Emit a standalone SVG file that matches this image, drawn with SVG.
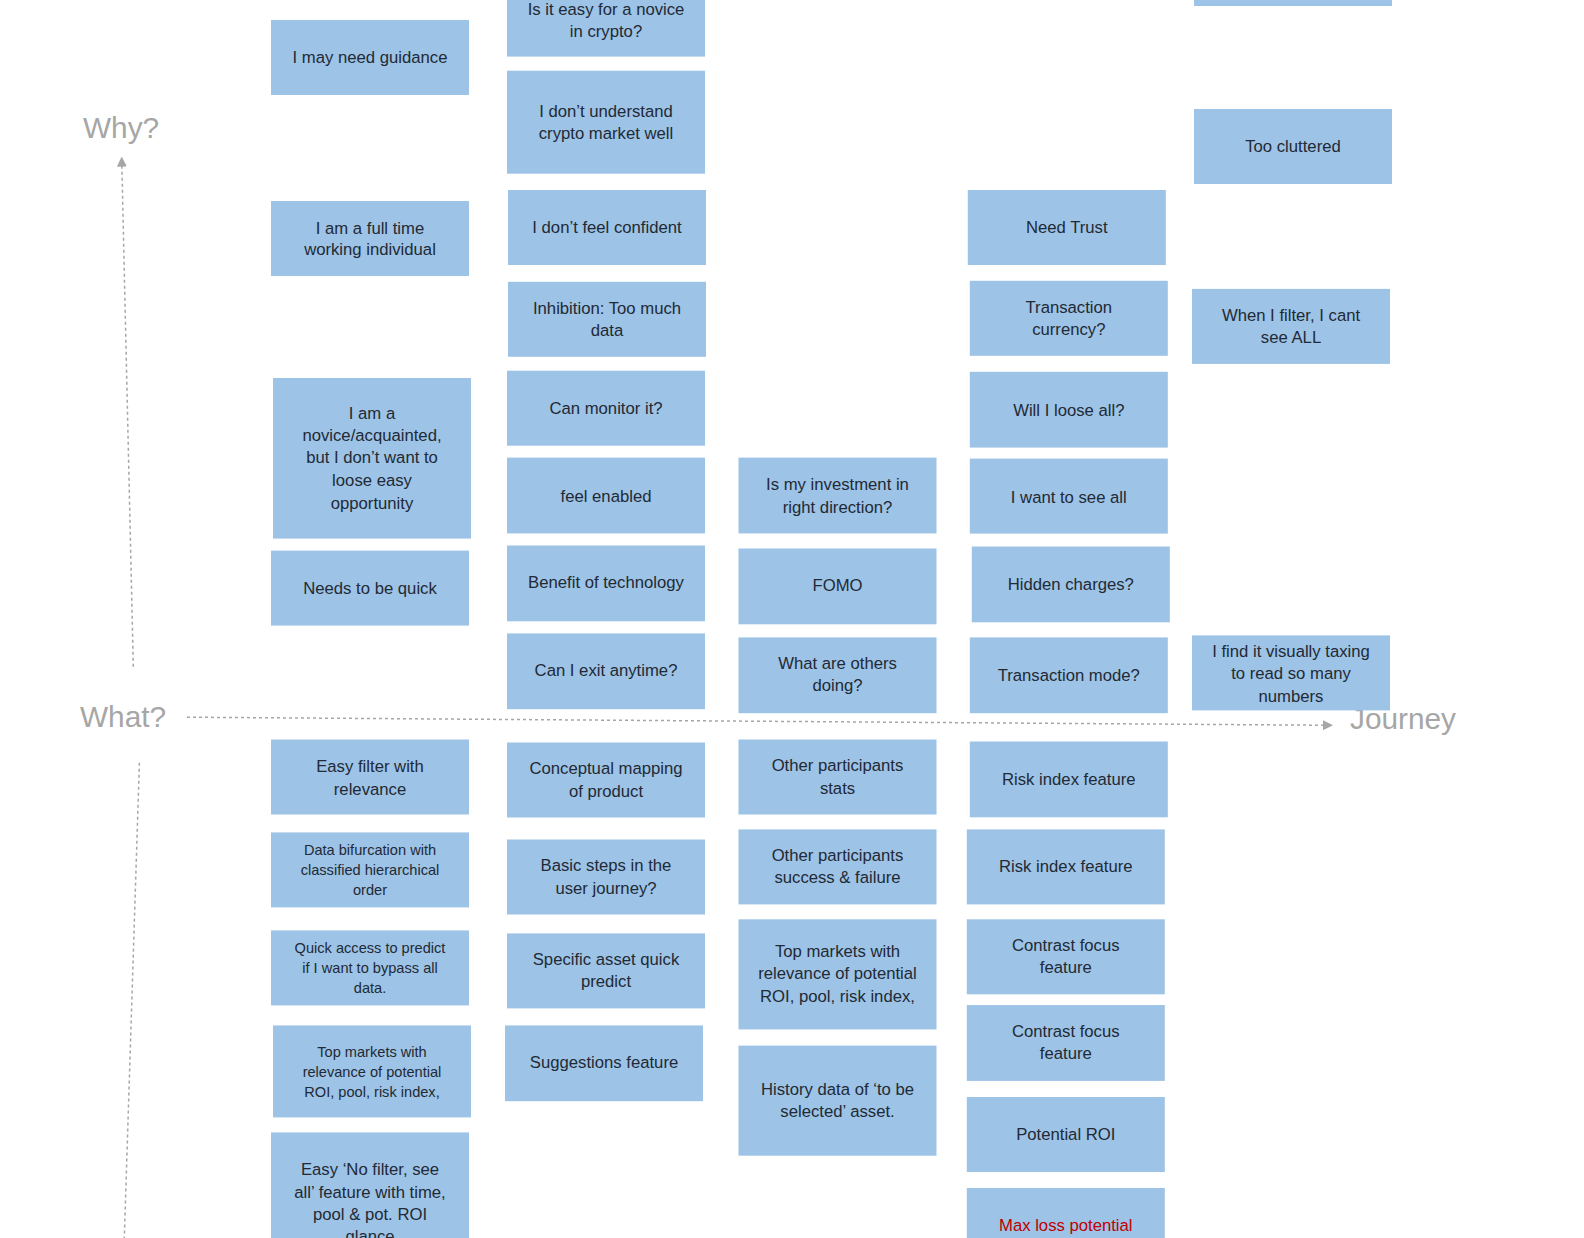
<svg xmlns="http://www.w3.org/2000/svg" width="1584" height="1238" viewBox="0 0 1584 1238">
<defs>
<style>
.b{fill:#9DC3E6;}
.t{font-family:"Liberation Sans",Arial,sans-serif;font-size:16.7px;fill:#222A35;text-anchor:middle;dominant-baseline:central;}
.s{font-size:14.6px;}
.r{fill:#C00000;}
.ax{font-family:"Liberation Sans",Arial,sans-serif;font-size:29.8px;fill:#A6A6A6;}
.ln{stroke:#A6A6A6;stroke-width:1.5;stroke-dasharray:3 3;fill:none;}
</style>
<marker id="ah" markerWidth="10" markerHeight="10" refX="8" refY="5" orient="auto" markerUnits="userSpaceOnUse">
<path d="M0,0 L10,5 L0,10 Z" fill="#A6A6A6"/>
</marker>
</defs>
<rect width="1584" height="1238" fill="#FFFFFF"/>

<g id="axes">
<text class="ax" x="83" y="138">Why?</text>
<text class="ax" x="80" y="727">What?</text>
<text class="ax" x="1350" y="729">Journey</text>
</g>
<g id="connectors">
<line class="ln" x1="133.3" y1="666.7" x2="121.7" y2="158.6" marker-end="url(#ah)"/>
<line class="ln" x1="187" y1="717.2" x2="1331" y2="725.3" marker-end="url(#ah)"/>
<line class="ln" x1="139.4" y1="762.7" x2="124.3" y2="1238"/>
</g>

<!-- Column 1 -->
<g id="n-guidance"><rect class="b" x="271" y="20" width="198" height="75"/><text class="t" x="370" y="57.6">I may need guidance</text></g>
<g id="n-fulltime"><rect class="b" x="271" y="201" width="198" height="75"/><text class="t" x="370" y="228.3">I am a full time</text><text class="t" x="370" y="249.5">working individual</text></g>
<g id="n-novice"><rect class="b" x="273" y="378" width="198" height="160.6"/><text class="t" x="372" y="413.2">I am a</text><text class="t" x="372" y="435.4">novice/acquainted,</text><text class="t" x="372" y="457.6">but I don’t want to</text><text class="t" x="372" y="480.9">loose easy</text><text class="t" x="372" y="503.1">opportunity</text></g>
<g id="n-quick"><rect class="b" x="271" y="550.6" width="198" height="75"/><text class="t" x="370" y="588">Needs to be quick</text></g>
<g id="n-easyfilter"><rect class="b" x="271" y="739.5" width="198" height="75"/><text class="t" x="370" y="766.7">Easy filter with</text><text class="t" x="370" y="789">relevance</text></g>
<g id="n-databif"><rect class="b" x="271" y="832.4" width="198" height="75"/><text class="t s" x="370" y="849.6">Data bifurcation with</text><text class="t s" x="370" y="869.8">classified hierarchical</text><text class="t s" x="370" y="890">order</text></g>
<g id="n-quickaccess"><rect class="b" x="271" y="930.4" width="198" height="75"/><text class="t s" x="370" y="947.6">Quick access to predict</text><text class="t s" x="370" y="967.8">if I want to bypass all</text><text class="t s" x="370" y="988">data.</text></g>
<g id="n-topmarkets1"><rect class="b" x="273" y="1025.4" width="198" height="92"/><text class="t s" x="372" y="1051.6">Top markets with</text><text class="t s" x="372" y="1071.8">relevance of potential</text><text class="t s" x="372" y="1092">ROI, pool, risk index,</text></g>
<g id="n-nofilter"><rect class="b" x="271" y="1132.4" width="198" height="120"/><text class="t" x="370" y="1169.8">Easy ‘No filter,  see</text><text class="t" x="370" y="1192">all’ feature with time,</text><text class="t" x="370" y="1214.3">pool &amp; pot. ROI</text><text class="t" x="370" y="1236.5">glance</text></g>

<!-- Column 2 -->
<g id="n-novicecrypto"><rect class="b" x="507" y="-20" width="198" height="76.6"/><text class="t" x="606" y="9.1">Is it easy for a novice</text><text class="t" x="606" y="31.3">in crypto?</text></g>
<g id="n-understand"><rect class="b" x="507" y="70.7" width="198" height="103"/><text class="t" x="606" y="111.1">I don’t understand</text><text class="t" x="606" y="133.3">crypto market well</text></g>
<g id="n-confident"><rect class="b" x="508" y="190" width="198" height="75"/><text class="t" x="607" y="227.3">I don’t feel confident</text></g>
<g id="n-inhibition"><rect class="b" x="508" y="281.8" width="198" height="75"/><text class="t" x="607" y="308.1">Inhibition: Too much</text><text class="t" x="607" y="330.3">data</text></g>
<g id="n-monitor"><rect class="b" x="507" y="370.7" width="198" height="75"/><text class="t" x="606" y="408.1">Can monitor it?</text></g>
<g id="n-enabled"><rect class="b" x="507" y="457.6" width="198" height="75.8"/><text class="t" x="606" y="496">feel enabled</text></g>
<g id="n-benefit"><rect class="b" x="507" y="545.5" width="198" height="75.8"/><text class="t" x="606" y="582.9">Benefit of technology</text></g>
<g id="n-exit"><rect class="b" x="507" y="633.4" width="198" height="75.8"/><text class="t" x="606" y="670.8">Can I exit anytime?</text></g>
<g id="n-conceptual"><rect class="b" x="507" y="742.5" width="198" height="75"/><text class="t" x="606" y="768.8">Conceptual mapping</text><text class="t" x="606" y="791">of product</text></g>
<g id="n-basicsteps"><rect class="b" x="507" y="839.5" width="198" height="75"/><text class="t" x="606" y="865.7">Basic steps in the</text><text class="t" x="606" y="888">user journey?</text></g>
<g id="n-specific"><rect class="b" x="507" y="933.4" width="198" height="75"/><text class="t" x="606" y="959.7">Specific asset quick</text><text class="t" x="606" y="981.9">predict</text></g>
<g id="n-suggestions"><rect class="b" x="505" y="1025.4" width="198" height="75.8"/><text class="t" x="604" y="1062.7">Suggestions feature</text></g>

<!-- Column 3 -->
<g id="n-investment"><rect class="b" x="738.5" y="457.6" width="198" height="75.8"/><text class="t" x="837.5" y="484.9">Is my investment in</text><text class="t" x="837.5" y="507.1">right direction?</text></g>
<g id="n-fomo"><rect class="b" x="738.5" y="548.5" width="198" height="75.8"/><text class="t" x="837.5" y="585.9">FOMO</text></g>
<g id="n-others"><rect class="b" x="738.5" y="637.4" width="198" height="75.8"/><text class="t" x="837.5" y="663.7">What are others</text><text class="t" x="837.5" y="685.9">doing?</text></g>
<g id="n-stats"><rect class="b" x="738.5" y="739.5" width="198" height="75"/><text class="t" x="837.5" y="765.7">Other participants</text><text class="t" x="837.5" y="788">stats</text></g>
<g id="n-success"><rect class="b" x="738.5" y="829.4" width="198" height="75"/><text class="t" x="837.5" y="855.6">Other participants</text><text class="t" x="837.5" y="877.9">success &amp; failure</text></g>
<g id="n-topmarkets2"><rect class="b" x="738.5" y="919.3" width="198" height="110.1"/><text class="t" x="837.5" y="951.6">Top markets with</text><text class="t" x="837.5" y="973.8">relevance of potential</text><text class="t" x="837.5" y="996">ROI, pool, risk index,</text></g>
<g id="n-history"><rect class="b" x="738.5" y="1045.6" width="198" height="110.1"/><text class="t" x="837.5" y="1089">History data of ‘to be</text><text class="t" x="837.5" y="1111.2">selected’ asset.</text></g>

<!-- Column 4 -->
<g id="n-trust"><rect class="b" x="967.8" y="190" width="198" height="75"/><text class="t" x="1066.8" y="227.3">Need Trust</text></g>
<g id="n-currency"><rect class="b" x="969.8" y="280.8" width="198" height="75"/><text class="t" x="1068.8" y="307.1">Transaction</text><text class="t" x="1068.8" y="329.3">currency?</text></g>
<g id="n-looseall"><rect class="b" x="969.8" y="371.8" width="198" height="75.8"/><text class="t" x="1068.8" y="410.1">Will I loose all?</text></g>
<g id="n-seeall"><rect class="b" x="969.8" y="458.6" width="198" height="75"/><text class="t" x="1068.8" y="497">I want to see all</text></g>
<g id="n-hidden"><rect class="b" x="971.8" y="546.5" width="198" height="75.8"/><text class="t" x="1070.8" y="584.9">Hidden charges?</text></g>
<g id="n-mode"><rect class="b" x="969.8" y="637.4" width="198" height="75.8"/><text class="t" x="1068.8" y="675.8">Transaction mode?</text></g>
<g id="n-risk1"><rect class="b" x="969.8" y="741.5" width="198" height="75.8"/><text class="t" x="1068.8" y="779.9">Risk index feature</text></g>
<g id="n-risk2"><rect class="b" x="966.8" y="829.4" width="198" height="75"/><text class="t" x="1065.8" y="866.8">Risk index feature</text></g>
<g id="n-contrast1"><rect class="b" x="966.8" y="919.3" width="198" height="75"/><text class="t" x="1065.8" y="945.5">Contrast focus</text><text class="t" x="1065.8" y="967.8">feature</text></g>
<g id="n-contrast2"><rect class="b" x="966.8" y="1005.1" width="198" height="75.8"/><text class="t" x="1065.8" y="1031.4">Contrast focus</text><text class="t" x="1065.8" y="1053.6">feature</text></g>
<g id="n-roi"><rect class="b" x="966.8" y="1097" width="198" height="75"/><text class="t" x="1065.8" y="1134.5">Potential ROI</text></g>
<g id="n-maxloss"><rect class="b" x="966.8" y="1188" width="198" height="60"/><text class="t r" x="1065.8" y="1225.4">Max loss potential</text></g>

<!-- Column 5 -->
<g id="n-top5"><rect class="b" x="1194" y="-60" width="198" height="66"/></g>
<g id="n-cluttered"><rect class="b" x="1194" y="109" width="198" height="75"/><text class="t" x="1293" y="146.5">Too cluttered</text></g>
<g id="n-filter"><rect class="b" x="1192" y="288.9" width="198" height="75"/><text class="t" x="1291" y="315.2">When I filter, I cant</text><text class="t" x="1291" y="337.4">see ALL</text></g>
<g id="n-taxing"><rect class="b" x="1192" y="635.4" width="198" height="75"/><text class="t" x="1291" y="651.6">I find it visually taxing</text><text class="t" x="1291" y="673.8">to read so many</text><text class="t" x="1291" y="696">numbers</text></g>
</svg>
